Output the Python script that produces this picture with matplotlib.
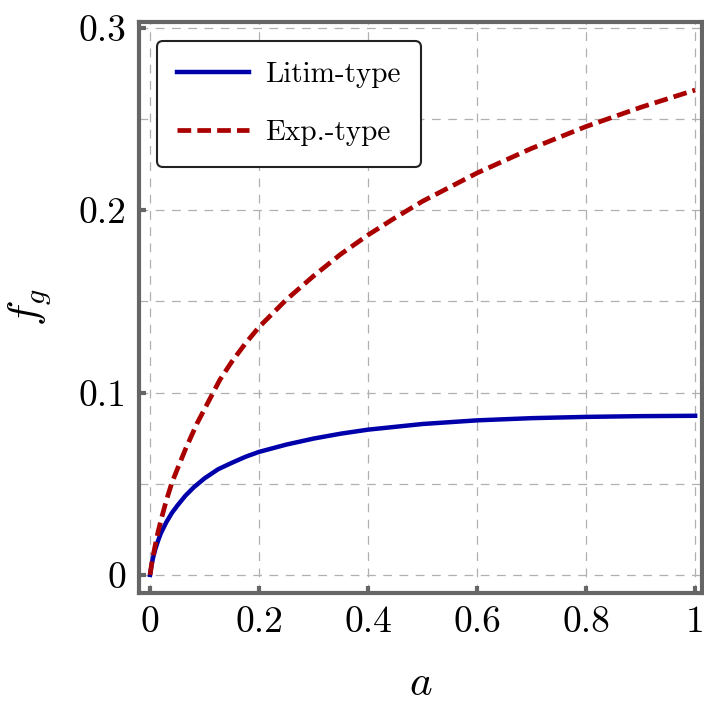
import os
import matplotlib
matplotlib.use("Agg")
import matplotlib.pyplot as plt
from matplotlib import font_manager

cm_path = os.path.join(matplotlib.get_data_path(), 'fonts', 'ttf', 'cmr10.ttf')
font_manager.fontManager.addfont(cm_path)
cm_name = font_manager.FontProperties(fname=cm_path).get_name()
plt.rcParams['font.family'] = [cm_name, 'DejaVu Serif']
plt.rcParams['mathtext.fontset'] = 'cm'
plt.rcParams['axes.unicode_minus'] = False

# values
a_litim = [0, 0.003, 0.006, 0.01, 0.015, 0.02, 0.03, 0.04, 0.05, 0.065, 0.08, 0.1,
           0.125, 0.15, 0.175, 0.2, 0.25, 0.3, 0.35, 0.4, 0.5, 0.6, 0.7, 0.8, 0.9, 1.0]
f_litim = [0, 0.006, 0.010, 0.0145, 0.019, 0.023, 0.029, 0.034, 0.038, 0.0435, 0.048, 0.053,
           0.058, 0.0615, 0.0648, 0.0675, 0.0715, 0.0748, 0.0775, 0.0797, 0.0828, 0.0848,
           0.0860, 0.0867, 0.0871, 0.0873]

a_exp = [0, 0.003, 0.006, 0.01, 0.015, 0.02, 0.03, 0.04, 0.05, 0.065, 0.086, 0.1, 0.128,
         0.15, 0.175, 0.2, 0.25, 0.3, 0.35, 0.4, 0.45, 0.5, 0.6, 0.7, 0.8, 0.9, 1.0]
f_exp = [0, 0.006, 0.011, 0.017, 0.024, 0.030, 0.041, 0.0505, 0.058, 0.069, 0.083, 0.091, 0.107,
         0.117, 0.127, 0.136, 0.151, 0.164, 0.176, 0.1865, 0.196, 0.205, 0.2205, 0.234,
         0.246, 0.2565, 0.266]

xticks = [0, 0.2, 0.4, 0.6, 0.8, 1.0]
xticklabels = ['0', '0.2', '0.4', '0.6', '0.8', '1']
yticks = [0, 0.1, 0.2, 0.3]
yticklabels = ['0', '0.1', '0.2', '0.3']

fig = plt.figure(figsize=(7.04, 7.11), dpi=100)
ax = fig.add_axes([0.1975, 0.166, 0.80, 0.803])

ax.plot(a_litim, f_litim, color='#0000aa', lw=3.2, label='Litim-type', zorder=3)
ax.plot(a_exp, f_exp, color='#aa0000', lw=3.4, ls=(0, (2.9, 1.3)), label='Exp.-type', zorder=3)

ax.set_xlim(-0.0202, 1.013)
ax.set_ylim(-0.0099, 0.3033)

ax.set_xticks(xticks)
ax.set_xticklabels(xticklabels)
ax.set_yticks(yticks)
ax.set_yticklabels(yticklabels)
ax.set_yticks([0.05, 0.15, 0.25], minor=True)

for s in ax.spines.values():
    s.set_color('#666666')
    s.set_linewidth(3.0)

ax.tick_params(which='major', direction='in', length=5, width=3, color='#666666',
               labelsize=27, pad=9, top=False, right=False)
ax.tick_params(which='minor', length=0)

ax.grid(True, which='both', color='#b0b0b0', ls=(0, (7, 6)), lw=0.9)
ax.set_axisbelow(True)

ax.set_xlabel(r'$a$', fontsize=31, labelpad=19)
ax.set_ylabel(r'$f_g$', fontsize=31, labelpad=18)

leg = ax.legend(loc='upper left', bbox_to_anchor=(0.032, 0.967), borderaxespad=0,
                fontsize=21, handlelength=2.45, labelspacing=1.1, borderpad=0.7,
                handletextpad=0.55, fancybox=True, framealpha=1.0)
leg.get_frame().set_edgecolor('#222222')
leg.get_frame().set_linewidth(1.5)

fig.savefig('out.png', dpi=100)
